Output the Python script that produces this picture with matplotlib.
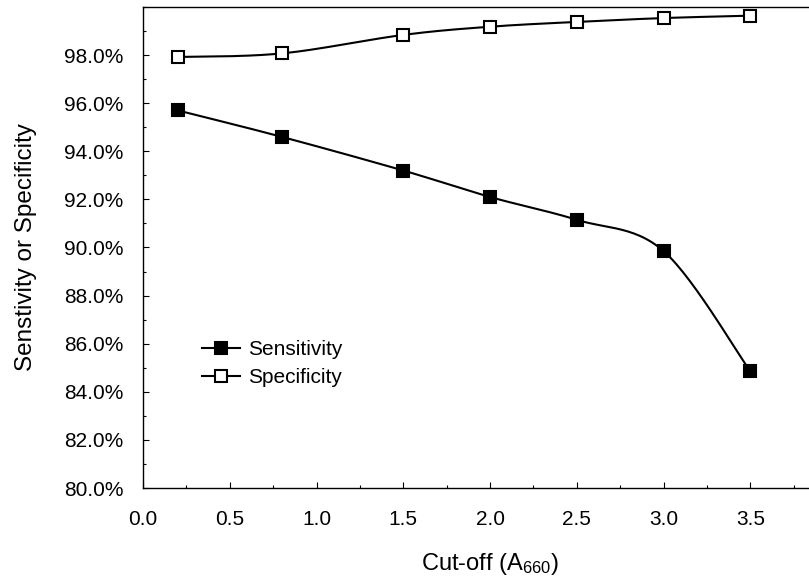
import matplotlib
matplotlib.use("Agg")
import matplotlib.pyplot as plt
import numpy as np
from matplotlib.ticker import MultipleLocator, FuncFormatter

plt.rcParams['font.family'] = ['Liberation Sans', 'DejaVu Sans']
plt.rcParams['mathtext.default'] = 'regular'

# donnees
cutoff = [0.2, 0.8, 1.5, 2.0, 2.5, 3.0, 3.5]
sensitivity = [95.7, 94.6, 93.2, 92.1, 91.15, 89.85, 84.85]
specificity = [97.92, 98.07, 98.84, 99.18, 99.38, 99.54, 99.64]
xticks = [0.0, 0.5, 1.0, 1.5, 2.0, 2.5, 3.0, 3.5]
yticks = [80, 82, 84, 86, 88, 90, 92, 94, 96, 98]


def lisse(xs, ys, n=30):
    """Courbe lissee (Catmull-Rom) passant par les points, comme Excel"""
    P = np.column_stack([xs, ys]).astype(float)
    P = np.vstack([P[0], P, P[-1]])
    out = []
    t = np.linspace(0, 1, n)[:, None]
    for i in range(1, len(P) - 2):
        p0, p1, p2, p3 = P[i - 1], P[i], P[i + 1], P[i + 2]
        c1 = p1 + (p2 - p0) / 6
        c2 = p2 - (p3 - p1) / 6
        seg = ((1 - t) ** 3) * p1 + 3 * ((1 - t) ** 2) * t * c1 + 3 * (1 - t) * t ** 2 * c2 + t ** 3 * p2
        out.append(seg if i == 1 else seg[1:])
    out = np.vstack(out)
    return out[:, 0], out[:, 1]


fig = plt.figure(figsize=(8.09, 5.78), dpi=100)
ax = fig.add_axes([0.1768, 0.1557, 0.8580, 0.8322])

for ys, face, lab in [(sensitivity, 'black', 'Sensitivity'), (specificity, 'white', 'Specificity')]:
    sx, sy = lisse(cutoff, ys)
    ax.plot(sx, sy, color='black', lw=1.5, zorder=2)
    ax.plot(cutoff, ys, linestyle='none', marker='s', ms=9, mfc=face, mec='black', mew=1.5, zorder=3)
    ax.plot([], [], color='black', lw=1.5, marker='s', ms=9, mfc=face, mec='black', mew=1.5, label=lab)

ax.set_xlim(0, 4.0)
ax.set_ylim(80, 100)
ax.set_xticks(xticks)
ax.xaxis.set_minor_locator(MultipleLocator(0.25))
ax.set_yticks(yticks)
ax.yaxis.set_minor_locator(MultipleLocator(1))
ax.xaxis.set_major_formatter(FuncFormatter(lambda v, p: "%.1f" % v))
ax.yaxis.set_major_formatter(FuncFormatter(lambda v, p: "%.1f%%" % v))
ax.tick_params(which='both', direction='in', labelsize=15, width=0.8)
ax.tick_params(which='major', length=4)
ax.tick_params(which='minor', length=2.5)
ax.tick_params(axis='y', pad=14)
ax.tick_params(axis='x', pad=16)
for s in ax.spines.values():
    s.set_linewidth(1)

ax.set_xlabel('Cut-off (A$_{660}$)', fontsize=17)
ax.set_ylabel('Senstivity or Specificity', fontsize=17.5)
ax.xaxis.set_label_coords(0.5, -0.132)
ax.yaxis.set_label_coords(-0.153, 0.5)

ax.legend(loc='upper left', bbox_to_anchor=(0.085, 0.308), frameon=False, fontsize=15,
          numpoints=1, handlelength=1.8, handletextpad=0.4, labelspacing=0.45,
          borderpad=0, borderaxespad=0)

fig.savefig('out.png', dpi=100)
